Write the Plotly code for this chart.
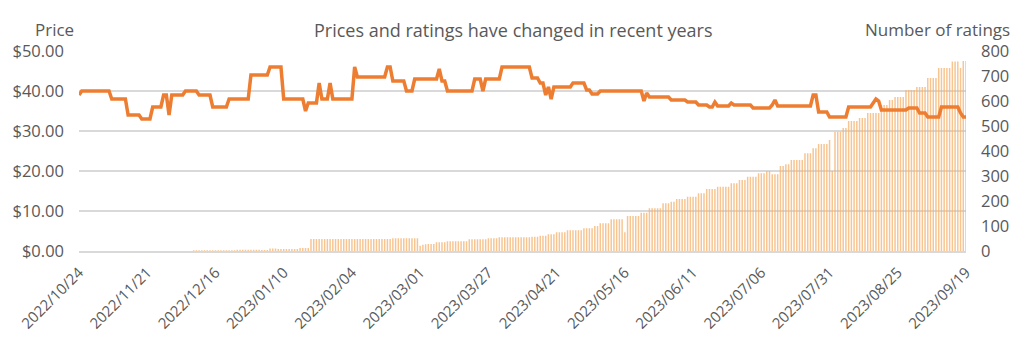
import pandas as pd
import plotly.graph_objects as go

# ---- categories (daily, with a few missing days) ----
missing_days = ["2022/11/01", "2022/11/08", "2022/11/15", "2023/03/15", "2023/06/01"]
all_days = pd.date_range("2022-10-24", "2023-09-19", freq="D").strftime("%Y/%m/%d").tolist()
dates = [d for d in all_days if d not in missing_days]

# ---- price series ($) ----
price = [
    39, 40, 40, 40, 40, 40, 40, 40, 40, 40, 40, 40, 38, 38, 38, 38, 38, 38, 34, 34, 34, 34, 34, 33, 33,
    33, 33, 36, 36, 36, 36, 39, 39, 34, 39, 39, 39, 39, 39, 40, 40, 40, 40, 40, 39, 39, 39, 39, 39, 36,
    36, 36, 36, 36, 36, 38, 38, 38, 38, 38, 38, 38, 38, 44, 44, 44, 44, 44, 44, 44, 46, 46, 46, 46, 46,
    38, 38, 38, 38, 38, 38, 38, 38, 35, 37, 37, 37, 37, 42, 38, 38, 38, 42, 38, 38, 38, 38, 38, 38, 38,
    38, 46, 43.5, 43.5, 43.5, 43.5, 43.5, 43.5, 43.5, 43.5, 43.5, 43.5, 43.5, 46, 46, 42.5, 42.5, 42.5, 42.5, 42.5, 40, 40, 40, 43, 43,
    43, 43, 43, 43, 43, 43, 43, 45.5, 42.5, 42.5, 40, 40, 40, 40, 40, 40, 40, 40, 40, 40, 43, 43, 43, 40, 43,
    43, 43, 43, 43, 43, 46, 46, 46, 46, 46, 46, 46, 46, 46, 46, 46, 43.25, 43.25, 43.25, 42, 42, 39, 41, 38, 41,
    41, 41, 41, 41, 41, 41, 42, 42, 42, 42, 42, 40.25, 40.25, 39.25, 39.25, 39.25, 40, 40, 40, 40, 40, 40, 40, 40, 40,
    40, 40, 40, 40, 40, 40, 40, 37.5, 39.5, 38.5, 38.5, 38.5, 38.5, 38.5, 38.5, 38.5, 38.5, 37.75, 37.75, 37.75, 37.75, 37.75, 37.75, 37.25, 37.25,
    37.25, 37.25, 36.5, 36.5, 36.5, 36.5, 36, 36, 37.25, 36.25, 36.25, 36.25, 36.25, 36.25, 37, 36.5, 36.5, 36.5, 36.5, 36.5, 36.5, 36.5, 35.75, 35.75, 35.75,
    35.75, 35.75, 35.75, 35.75, 36.5, 37.75, 36.25, 36.25, 36.25, 36.25, 36.25, 36.25, 36.25, 36.25, 36.25, 36.25, 36.25, 36.25, 36.25, 39, 39, 34.75, 34.75, 34.75, 34.75,
    33.5, 33.5, 33.5, 33.5, 33.5, 33.5, 33.5, 36, 36, 36, 36, 36, 36, 36, 36, 36, 37, 38, 37.5, 35.25, 35.25, 35.25, 35.25, 35.25, 35.25,
    35.25, 35.25, 35.25, 35.25, 35.75, 35.75, 35.75, 35.75, 34.5, 34.5, 34.5, 33.5, 33.5, 33.5, 33.5, 33.5, 36, 36, 36, 36, 36, 36, 36, 34.5, 33.5,
    33.5,
]

# ---- number of ratings ----
ratings = [
    0, 0, 0, 0, 0, 0, 0, 0, 0, 0, 0, 0, 0, 0, 0, 0, 0, 0, 0, 0, 0, 0, 0, 0, 0,
    0, 0, 0, 0, 0, 0, 0, 0, 0, 0, 0, 0, 0, 0, 0, 0, 0, 3, 3, 3, 3, 3, 3, 3, 3,
    3, 3, 3, 3, 3, 3, 3, 3, 5, 5, 5, 5, 5, 5, 5, 5, 5, 4, 4, 4, 10, 10, 10, 8, 8,
    8, 8, 8, 8, 8, 8, 12, 12, 12, 12, 48, 48, 48, 48, 48, 48, 48, 48, 48, 48, 48, 48, 48, 48, 48,
    48, 48, 48, 48, 48, 48, 48, 48, 48, 48, 48, 48, 48, 48, 48, 51, 51, 51, 51, 51, 51, 51, 51, 51, 51,
    21, 25, 27, 28, 28, 28, 35, 35, 35, 35, 39, 39, 39, 39, 39, 39, 39, 39, 47, 47, 47, 47, 47, 47, 47,
    51, 51, 51, 51, 55, 55, 55, 55, 55, 55, 55, 55, 55, 55, 55, 55, 57, 57, 57, 61, 61, 61, 67, 67, 67,
    75, 75, 75, 75, 83, 83, 83, 83, 83, 83, 91, 91, 91, 91, 100, 100, 111, 111, 111, 111, 127, 127, 127, 127, 127,
    75, 140, 140, 140, 140, 140, 153, 153, 153, 171, 171, 171, 171, 171, 191, 191, 191, 197, 197, 208, 208, 208, 208, 217, 217,
    217, 217, 231, 231, 231, 248, 248, 248, 248, 257, 257, 257, 257, 257, 271, 271, 271, 284, 284, 284, 297, 297, 297, 297, 311,
    311, 311, 320, 320, 307, 307, 307, 340, 340, 347, 347, 364, 364, 364, 364, 364, 391, 391, 391, 411, 411, 428, 428, 428, 428,
    444, 320, 477, 477, 477, 492, 492, 520, 520, 520, 520, 532, 532, 532, 552, 552, 552, 552, 552, 584, 584, 584, 604, 604, 616,
    616, 616, 616, 644, 644, 644, 644, 656, 656, 656, 656, 692, 692, 692, 692, 732, 732, 732, 732, 732, 758, 758, 758, 732, 760,
    760,
]

tick_labels = dates[::25]

TEXT = "#595959"
FONT = "Open Sans"

fig = go.Figure()
fig.add_trace(go.Bar(
    x=dates, y=ratings, name="Number of ratings", yaxis="y",
    marker=dict(color="rgba(244,177,110,0.75)", line=dict(width=0)),
))
fig.add_trace(go.Scatter(
    x=dates, y=price, name="Price", yaxis="y2", mode="lines",
    line=dict(color="#ED7D31", width=3.5),
))

# the page adds an 8px body margin, so the figure is 8px smaller and margins offset
fig.update_layout(
    width=1016, height=354,
    margin=dict(l=71, r=58, t=43, b=111, autoexpand=False),
    paper_bgcolor="white", plot_bgcolor="white",
    showlegend=False, bargap=0.45,
    font=dict(family=FONT, color=TEXT, size=15),
    xaxis=dict(
        type="category", range=[0, len(dates) - 1], automargin=False,
        tickmode="array", tickvals=tick_labels, ticktext=tick_labels,
        tickangle=-45, showgrid=False, zeroline=False, ticks="",
        showline=True, linecolor="#D9D9D9", linewidth=1.5,
        tickfont=dict(size=15, color=TEXT), ticklabelstandoff=5,
    ),
    yaxis=dict(
        side="right", range=[0, 800], dtick=100, showgrid=False, zeroline=False,
        automargin=False, tickfont=dict(size=16.5, color=TEXT), ticks="",
        ticklabelstandoff=14,
    ),
    yaxis2=dict(
        overlaying="y", side="left", range=[0, 50], dtick=10, automargin=False,
        tickprefix="$", tickformat=".2f", showgrid=True, gridcolor="#D9D9D9",
        gridwidth=1.5, zeroline=False, tickfont=dict(size=16.5, color=TEXT), ticks="",
        ticklabelstandoff=14,
    ),
    annotations=[
        dict(text="Prices and ratings have changed in recent years", xref="paper", yref="paper",
             x=0.49, y=1.0, yshift=21, showarrow=False, font=dict(size=18, color=TEXT),
             xanchor="center", yanchor="middle"),
        dict(text="Price", xref="paper", yref="paper", x=0, xshift=-25, y=1.0, yshift=22,
             showarrow=False, font=dict(size=17, color=TEXT), xanchor="center", yanchor="middle"),
        dict(text="Number of ratings", xref="paper", yref="paper", x=1, xshift=-29, y=1.0, yshift=22,
             showarrow=False, font=dict(size=17, color=TEXT), xanchor="center", yanchor="middle"),
    ],
)

fig.write_html("out.html")
